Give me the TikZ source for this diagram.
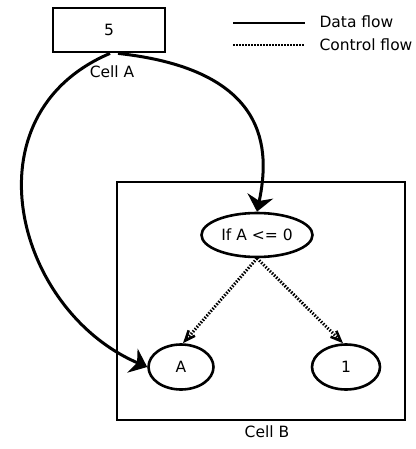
\documentclass[tikz,border=0pt]{standalone}
\usepackage{fontspec}
\setmainfont{DejaVu Sans}
\usetikzlibrary{shapes.geometric,arrows.meta,positioning}
\begin{document}
\begin{tikzpicture}[x=1pt,y=-1pt,
  lbl/.style={font=\fontsize{15.5}{18}\selectfont},
  cellbox/.style={draw,line width=2.8pt,rectangle,inner sep=0pt},
  oval/.style={draw,line width=2.6pt,ellipse,inner sep=0pt,font=\fontsize{15.5}{18}\selectfont},
  dataflow/.style={line width=3pt,-{Stealth[length=16pt,width=26pt,inset=5pt]}},
  ctrlflow/.style={line width=3pt,dash pattern=on 1.5pt off 1.5pt,-{Straight Barb[angle'=45,length=10pt,line width=2.6pt]}},
  legsolid/.style={line width=2.8pt},
  legdot/.style={line width=2.8pt,dash pattern=on 1.5pt off 1.5pt}]
\useasboundingbox (0,0) rectangle (415,449);
\node[cellbox,minimum width=112pt,minimum height=44pt,lbl] (cellA) at (109,30) {5};
\node[lbl] (cellAlbl) at (112,72) {Cell A};
\node[cellbox,minimum width=288pt,minimum height=238pt] (cellB) at (261,301) {};
\node[lbl] (cellBlbl) at (267,432) {Cell B};
\node[oval,minimum width=111pt,minimum height=44pt] (cond) at (257,235) {If A <= 0};
\node[oval,minimum width=65pt,minimum height=45pt] (a) at (181,367) {A};
\node[oval,minimum width=68pt,minimum height=45pt] (one) at (346,367) {1};
\draw[dataflow] ([xshift=1pt]cellA.south) .. controls (-35,115) and (15,310) .. (a.west);
\draw[dataflow] ([xshift=9pt]cellA.south) .. controls (270,70) and (270,150) .. (cond.north);
\draw[ctrlflow] (cond.south) -- ([xshift=2pt]a.north);
\draw[ctrlflow] (cond.south) -- ([xshift=-3pt]one.north);
\coordinate (l1a) at (233,23);
\coordinate (l1b) at (305,23);
\coordinate (l2a) at (233,45);
\coordinate (l2b) at (305,45);
\draw[legsolid] (l1a) -- (l1b);
\draw[legdot] (l2a) -- (l2b);
\node[lbl,anchor=west] (leg1) at (316,22) {Data flow};
\node[lbl,anchor=west] (leg2) at (316,45) {Control flow};
\end{tikzpicture}
\end{document}
